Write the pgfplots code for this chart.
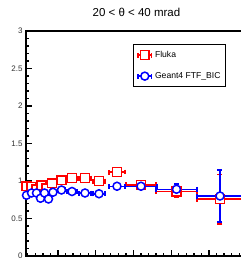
\documentclass[border=0pt]{standalone}
\usepackage{fontspec}
\setmainfont{Liberation Sans}
\usepackage{pgfplots}
\pgfplotsset{compat=1.18}
\usepackage{pgfplotstable}

\pgfplotstableread{
x     y     ex    ey
26.5  0.93  2.5   0.03
31.5  0.92  2.5   0.03
36.5  0.89  2.5   0.03
41.5  0.94  2.5   0.03
46.5  0.90  2.5   0.03
52    0.97  3     0.03
61.5  1.01  4     0.03
72    1.04  5     0.03
85    1.04  6     0.03
99    1.00  6     0.03
117   1.12  8     0.03
141   0.95  15    0.03
176.5 0.86  20.5  0.07
220   0.76  23    0.33
}\fluka

\pgfplotstableread{
x     y     ex    ey
26.5  0.81  2.5   0.03
31.5  0.84  2.5   0.03
36.5  0.84  2.5   0.03
40.5  0.77  2.5   0.03
44.5  0.84  2.5   0.03
48.5  0.76  2.5   0.03
53    0.85  3     0.03
61.5  0.88  4     0.03
72    0.86  5     0.03
85    0.84  6     0.03
99    0.83  6     0.03
117   0.93  8     0.03
141   0.93  16    0.03
176.5 0.89  20.5  0.07
220   0.80  23    0.35
}\geant

\begin{document}
\begin{tikzpicture}
\path[use as bounding box] (0pt,0pt) rectangle (241pt,258pt);
\begin{axis}[
  at={(26pt,2pt)}, anchor=south west,
  scale only axis, width=234pt, height=225pt,
  xmin=26, xmax=260, ymin=0, ymax=3,
  clip=false,
  axis line style={line width=1.8pt},
  tick pos=left,
  every tick/.style={line width=1.3pt, black},
  major tick length=6pt, minor tick length=3pt,
  xtick={58,95.75,133.5,171.25,209,246.75},
  xticklabels={},
  minor xtick={27.8,35.35,42.9,50.45,65.55,73.1,80.65,88.2,103.3,110.85,118.4,125.95,141.05,148.6,156.15,163.7,178.8,186.35,193.9,201.45,216.55,224.1,231.65,239.2},
  ytick={0,0.5,1,1.5,2,2.5,3},
  minor y tick num=4,
  yticklabel style={font=\fontsize{8}{9}\selectfont, text=black!80, xshift=0pt},
  /pgf/number format/assume math mode=true,
  title={20 < θ < 40 mrad},
  title style={font=\fontsize{11.5}{13}\selectfont, at={(axis description cs:0.472,1)}, anchor=center, yshift=12.5pt},
  legend style={at={(axis description cs:0.457,0.942)}, anchor=north west,
    draw=black, line width=1.2pt, font=\fontsize{8.6}{9}\selectfont,
    inner xsep=3pt, inner ysep=4.5pt, row sep=9.5pt, cells={anchor=west}},
  legend image code/.code={
    \draw[mark=none, line width=1.5pt] (0pt,0pt) -- (15pt,0pt);
    \draw[mark=none, line width=1.5pt] (0.75pt,-2.5pt) -- (0.75pt,2.5pt);
    \draw[mark=none, line width=1.5pt] (14.25pt,-2.5pt) -- (14.25pt,2.5pt);
    \draw plot coordinates {(7.5pt,0pt)};
  },
]
\addplot+[only marks, color=red, mark=square*, mark size=4.3pt,
  mark options={fill=white, line width=1.5pt, draw=red},
  error bars/.cd, x dir=both, x explicit, y dir=both, y explicit,
  error bar style={line width=1.5pt, red}, error mark options={rotate=90, mark size=2.5pt, line width=1.5pt, red}]
  table[x=x, y=y, x error=ex, y error=ey] {\fluka};
\addlegendentry{Fluka}
\addplot+[only marks, color=blue, mark=*, mark size=4pt,
  mark options={fill=white, line width=1.5pt, draw=blue},
  error bars/.cd, x dir=both, x explicit, y dir=both, y explicit,
  error bar style={line width=1.5pt, blue}, error mark options={rotate=90, mark size=2.5pt, line width=1.5pt, blue}]
  table[x=x, y=y, x error=ex, y error=ey] {\geant};
\addlegendentry{Geant4 FTF\_BIC}
\end{axis}
\end{tikzpicture}
\end{document}
